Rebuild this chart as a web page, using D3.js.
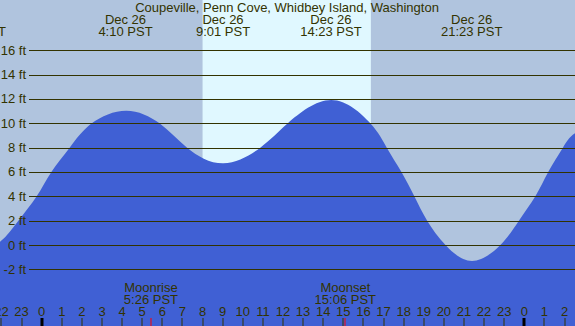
<!DOCTYPE html>
<html lang="en">
<head>
<meta charset="utf-8">
<title>Tide chart</title>
<script src="https://d3js.org/d3.v7.min.js"></script>
<style>
  body { margin: 0; }
  svg { display: block; font-family: "Liberation Sans", Arial, sans-serif; font-size: 13px; }
</style>
</head>
<body>
<svg id="chart" width="575" height="326"></svg>
<script>
// station
var title = "Coupeville, Penn Cove, Whidbey Island, Washington"

// tide curve: hours from Dec 26 0:00, height in ft
var tideHours = [-3.3, -2.07, -1.16, -0.25, 0.48, 1.39, 2.49, 4.2, 5.86, 7.23, 9.03,
                 10.87, 12.24, 14.4, 16.34, 17.16, 17.89, 18.53, 19.17, 20.08, 21.4,
                 22.81, 23.73, 24.55, 25.19, 25.92, 26.52, 27.9]
var tideFeet  = [-0.9, 0.27, 2, 4, 6, 8, 10, 11.04, 10, 8, 6.71,
                 8, 10, 11.91, 10, 8, 6, 4, 2, 0, -1.31,
                 0, 2, 4, 6, 8, 9.18, 10.4]

// highs and lows labelled across the top
var extremeHours = [-3.3, 4.167, 9.017, 14.383, 21.383]
var extremeDays  = ["Dec 25", "Dec 26", "Dec 26", "Dec 26", "Dec 26"]
var extremeTimes = ["20:42 PST", "4:10 PST", "9:01 PST", "14:23 PST", "21:23 PST"]

// sun and moon
var sunrise = 8.0, sunset = 16.37
var moonHours = [5.433, 15.1]
var moonNames = ["Moonrise", "Moonset"]
var moonTimes = ["5:26 PST", "15:06 PST"]

// axes
var feetTicks = [-2, 0, 2, 4, 6, 8, 10, 12, 14, 16]
var hourTicks = d3.range(-2, 27)

var W = 575, H = 326
var ink = "#333300"
var svg = d3.select("#chart")

var x = d3.scaleLinear().domain([0, 24]).range([41.7, 524.3])
var y = d3.scaleLinear().domain([0, 16]).range([245, 50.3])

// night background and daylight band
svg.append("rect").attr("width", W).attr("height", H).attr("fill", "#b0c4de")
svg.append("rect")
  .attr("x", x(sunrise)).attr("y", 0)
  .attr("width", x(sunset) - x(sunrise)).attr("height", H)
  .attr("fill", "#e0f8ff")

// tide
var tide = tideHours.map((h, i) => ({h: h, ft: tideFeet[i]}))
var area = d3.area()
  .x(d => x(d.h))
  .y0(H)
  .y1(d => y(d.ft))
  .curve(d3.curveNatural)
svg.append("path").datum(tide).attr("d", area).attr("fill", "#4060d4")

// grid lines and labels
var grid = svg.append("g").selectAll("g").data(feetTicks).enter().append("g")
grid.append("line")
  .attr("x1", 29).attr("x2", W)
  .attr("y1", d => Math.round(y(d)) + 0.5).attr("y2", d => Math.round(y(d)) + 0.5)
  .attr("stroke", ink).attr("stroke-width", 1)
grid.append("text")
  .attr("x", 26).attr("y", d => y(d) + 4.5)
  .attr("text-anchor", "end").attr("fill", ink)
  .text(d => d + " ft")

// title
svg.append("text").attr("x", 287).attr("y", 12)
  .attr("text-anchor", "middle").attr("fill", ink).text(title)

// high / low labels
var ext = svg.append("g").selectAll("g").data(extremeHours).enter().append("g")
ext.append("text")
  .attr("x", d => x(d)).attr("y", 24)
  .attr("text-anchor", "middle").attr("fill", ink)
  .text((d, i) => extremeDays[i])
ext.append("text")
  .attr("x", d => x(d)).attr("y", 36)
  .attr("text-anchor", "middle").attr("fill", ink)
  .text((d, i) => extremeTimes[i])

// hour axis
var hx = svg.append("g").selectAll("g").data(hourTicks).enter().append("g")
hx.append("text")
  .attr("x", d => x(d)).attr("y", 316)
  .attr("text-anchor", "middle").attr("fill", ink)
  .text(d => (d + 24) % 24)
hx.append("rect")
  .attr("x", d => (d % 24 === 0) ? Math.round(x(d)) - 1.5 : Math.round(x(d)) - 0.5)
  .attr("y", 318)
  .attr("width", d => (d % 24 === 0) ? 3 : 1)
  .attr("height", H - 318)
  .attr("fill", d => (d % 24 === 0) ? "#000" : ink)

// moon events
var moon = svg.append("g").selectAll("g").data(moonHours).enter().append("g")
moon.append("text")
  .attr("x", d => x(d)).attr("y", 292)
  .attr("text-anchor", "middle").attr("fill", ink)
  .text((d, i) => moonNames[i])
moon.append("text")
  .attr("x", d => x(d)).attr("y", 304)
  .attr("text-anchor", "middle").attr("fill", ink)
  .text((d, i) => moonTimes[i])
moon.append("rect")
  .attr("x", d => Math.round(x(d)) - 0.5).attr("y", 318)
  .attr("width", 1).attr("height", H - 318)
  .attr("fill", "#ff0000")
</script>
</body>
</html>
